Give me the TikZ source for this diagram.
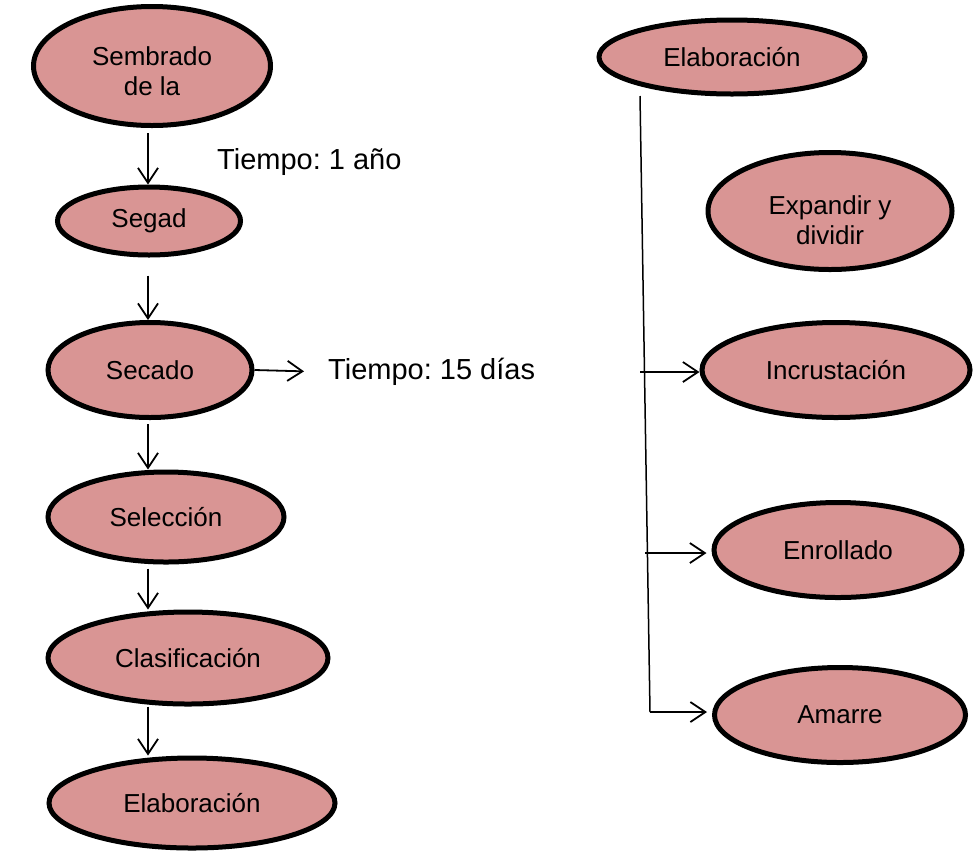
\documentclass[tikz,border=0pt]{standalone}
\usepackage{fontspec}
\setmainfont{Liberation Sans}
\usetikzlibrary{shapes.geometric,arrows.meta}
\definecolor{rosa}{HTML}{D99594}
\newcommand{\bajar}[2]{\raisebox{-#1}[\height][\depth]{\begin{tabular}{@{}c@{}}#2\end{tabular}}}
\begin{document}
\frenchspacing
\begin{tikzpicture}[x=1pt,y=-1pt,
  paso/.style={ellipse,draw,line width=5pt,fill=rosa,inner sep=0pt,align=center,font=\fontsize{26}{30}\selectfont},
  flecha/.style={line width=1.8pt,-{Straight Barb[length=15pt,width=20pt]}},
  nota/.style={inner sep=0pt,anchor=west,font=\fontsize{29}{34}\selectfont}]
\useasboundingbox (0,0) rectangle (973,852);
\node[paso,minimum width=237,minimum height=119] (sembrado) at (152,66) {\bajar{8pt}{Sembrado\\de la}};
\node[paso,minimum width=183,minimum height=68] (segad) at (149,221) {Segad};
\node[paso,minimum width=204,minimum height=95] (secado) at (150,370) {Secado};
\node[paso,minimum width=236,minimum height=90] (seleccion) at (166,517) {Selección};
\node[paso,minimum width=280,minimum height=92] (clasif) at (188,658) {Clasificación};
\node[paso,minimum width=286,minimum height=90] (elab) at (192,803) {Elaboración};
\node[nota] (t1) at (217,162) {Tiempo: 1 año};
\node[nota] (t15) at (328,372) {Tiempo: 15 días};
\node[paso,minimum width=266,minimum height=74] (elabder) at (732,57) {Elaboración};
\node[paso,minimum width=244,minimum height=117] (expandir) at (830,211) {\bajar{12pt}{Expandir y\\dividir}};
\node[paso,minimum width=268,minimum height=95] (incrust) at (836,370) {Incrustación};
\node[paso,minimum width=248,minimum height=95] (enroll) at (838,550) {Enrollado};
\node[paso,minimum width=251,minimum height=95] (amarre) at (840,715) {Amarre};
\coordinate (eje) at (148,0);
\draw[flecha,shorten <=5pt] (eje |- sembrado.south) -- (eje |- segad.north);
\draw[flecha,shorten <=18pt] (eje |- segad.south) -- (eje |- secado.north);
\draw[flecha,shorten <=4pt] (eje |- secado.south) -- (eje |- seleccion.north);
\draw[flecha,shorten <=4pt] (eje |- seleccion.south) -- (eje |- clasif.north);
\draw[flecha] (eje |- clasif.south) -- (eje |- elab.north);
\draw[flecha,shorten >=24pt] (secado.east) -- (t15.west);
\coordinate (troncoarriba) at (640,96);
\coordinate (troncoabajo) at (650,712);
\coordinate (r1) at (640,372);
\coordinate (r2) at (645,553);
\draw[line width=1.5pt] (troncoarriba) -- (troncoabajo);
\draw[flecha] (r1) -- (r1 -| incrust.west);
\draw[flecha,shorten >=5pt] (r2) -- (r2 -| enroll.west);
\draw[flecha,shorten >=5pt] (troncoabajo) -- (troncoabajo -| amarre.west);
\end{tikzpicture}
\end{document}
